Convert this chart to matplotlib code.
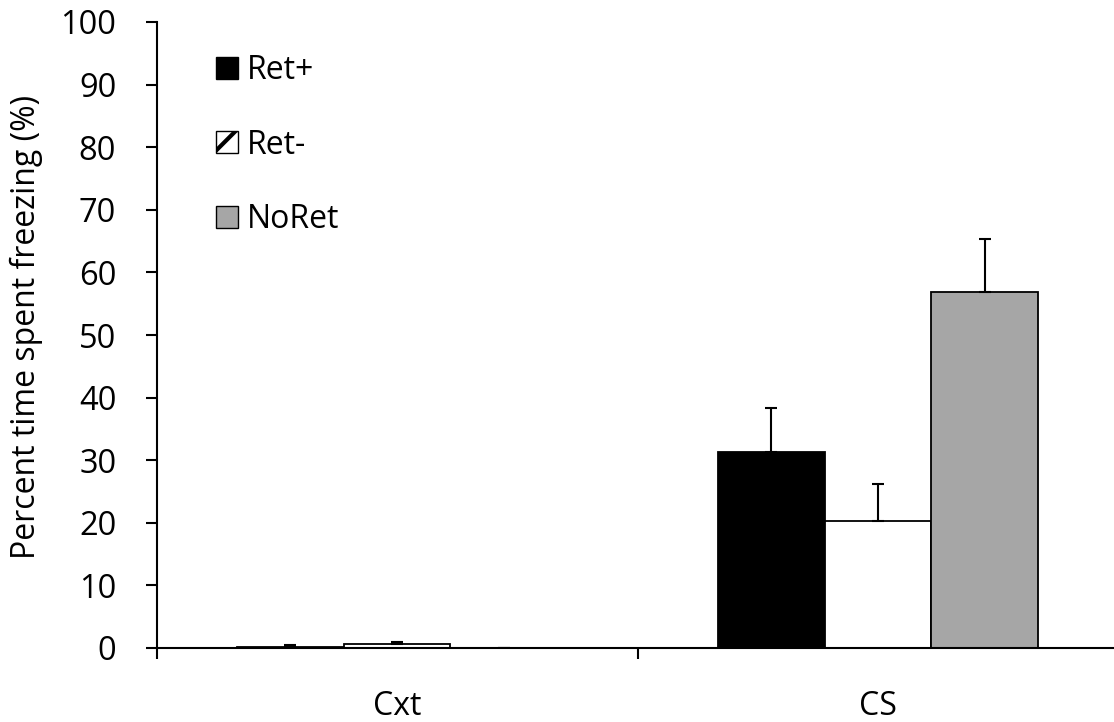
import numpy as np
import matplotlib
matplotlib.use("Agg")
import matplotlib.pyplot as plt
from matplotlib.patches import Patch

categories = ["Cxt", "CS"]
series = ["Ret+", "Ret-", "NoRet"]
ret_plus = [0.2, 31.3]
ret_minus = [0.7, 20.3]
no_ret = [0.0, 56.8]
ret_plus_err = [0.3, 7.0]
ret_minus_err = [0.3, 5.9]
no_ret_err = [0.0, 8.6]
colors = ["#000000", "#FFFFFF", "#A6A6A6"]
yticks = list(range(0, 101, 10))

plt.rcParams['font.family'] = ['Open Sans', 'DejaVu Sans']
plt.rcParams['hatch.linewidth'] = 3

fig = plt.figure(figsize=(11.14, 7.22), dpi=100)
ax = fig.add_axes([156.5 / 1114, 1 - 648 / 722, 962 / 1114, 626 / 722])

x = np.arange(len(categories))
w = 0.222
vals = [ret_plus, ret_minus, no_ret]
errs = [ret_plus_err, ret_minus_err, no_ret_err]
for i, (v, e) in enumerate(zip(vals, errs)):
    pos = x + (i - 1) * w
    ax.bar(pos, v, width=w, color=colors[i], edgecolor="black", linewidth=1.3, zorder=2)
    ax.errorbar(pos, v, yerr=[np.zeros(len(e)), e], fmt="none", ecolor="black",
                elinewidth=1.5, capsize=4.5, capthick=1.5, zorder=3)

ax.set_xlim(-0.5, 1.5)
ax.set_ylim(0, 100)
ax.set_yticks(yticks)
ax.tick_params(axis="y", labelsize=23.5, length=8, width=1.5, direction="out", pad=21)
ax.set_xticks([-0.5, 0.5, 1.5])
ax.set_xticklabels([])
ax.tick_params(axis="x", which="major", length=8, width=1.5, direction="out")
ax.set_xticks(x, minor=True)
ax.set_xticklabels(categories, minor=True, fontsize=23)
ax.tick_params(axis="x", which="minor", length=0, pad=30)

for s in ["top", "right"]:
    ax.spines[s].set_visible(False)
ax.spines["left"].set_linewidth(1.5)
ax.spines["bottom"].set_linewidth(1.5)

ax.set_ylabel("Percent time spent freezing (%)", fontsize=23)
ax.yaxis.set_label_coords((43 - 156.5) / 962, (648 - 327) / 626)

handles = [
    Patch(facecolor="#000000", edgecolor="black", linewidth=1),
    Patch(facecolor="#FFFFFF", edgecolor="black", linewidth=1, hatch="/"),
    Patch(facecolor="#A6A6A6", edgecolor="black", linewidth=1),
]
ax.legend(handles, series, loc="upper left", bbox_to_anchor=(216 / 1114, 1 - 54 / 722),
          bbox_transform=fig.transFigure, frameon=False, fontsize=23,
          handlelength=0.68, handleheight=0.68, handletextpad=0.3,
          labelspacing=1.3, borderpad=0, borderaxespad=0)

fig.savefig("out.png", dpi=100)
